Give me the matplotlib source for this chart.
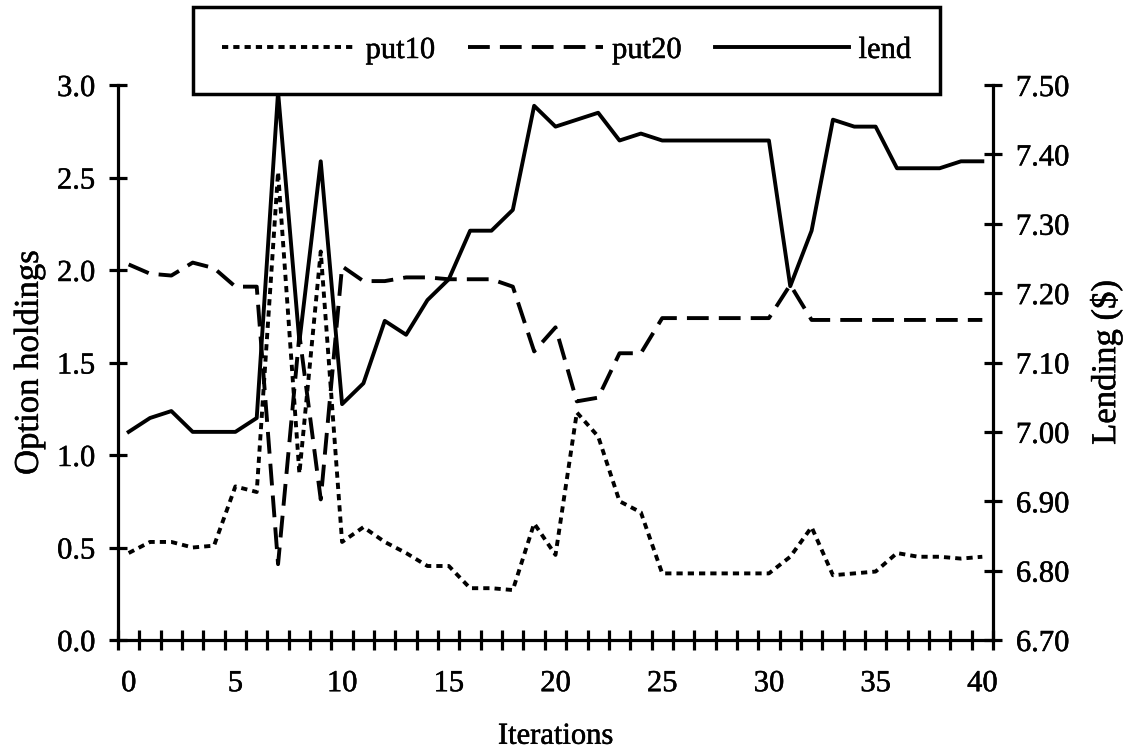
import numpy as np
import matplotlib
matplotlib.use("Agg")
import matplotlib.pyplot as plt
import matplotlib.patheffects as pe

plt.rcParams['font.family'] = ['Liberation Serif', 'DejaVu Serif']

# Iteration index
iterations = list(range(41))

# Option holdings (left axis)
put10 = [0.47, 0.53, 0.53, 0.50, 0.51, 0.83, 0.80, 2.53, 0.90, 2.10,
         0.53, 0.61, 0.53, 0.47, 0.40, 0.40, 0.28, 0.28, 0.27, 0.63,
         0.46, 1.23, 1.10, 0.75, 0.69, 0.36, 0.36, 0.36, 0.36, 0.36,
         0.36, 0.45, 0.61, 0.35, 0.36, 0.37, 0.47, 0.45, 0.45, 0.44,
         0.45]
put20 = [2.03, 1.98, 1.97, 2.04, 2.01, 1.91, 1.91, 0.41, 1.65, 0.76,
         2.02, 1.94, 1.94, 1.96, 1.96, 1.95, 1.95, 1.95, 1.91, 1.56,
         1.69, 1.29, 1.31, 1.55, 1.55, 1.74, 1.74, 1.74, 1.74, 1.74,
         1.74, 1.92, 1.73, 1.73, 1.73, 1.73, 1.73, 1.73, 1.73, 1.73,
         1.73]

# Lending in dollars (right axis)
lend = [7.00, 7.02, 7.03, 7.00, 7.00, 7.00, 7.02, 7.49, 7.13, 7.39,
        7.04, 7.07, 7.16, 7.14, 7.19, 7.22, 7.29, 7.29, 7.32, 7.47,
        7.44, 7.45, 7.46, 7.42, 7.43, 7.42, 7.42, 7.42, 7.42, 7.42,
        7.42, 7.21, 7.29, 7.45, 7.44, 7.44, 7.38, 7.38, 7.38, 7.39,
        7.39]

left_ticks = [0.0, 0.5, 1.0, 1.5, 2.0, 2.5, 3.0]
right_ticks = [6.70, 6.80, 6.90, 7.00, 7.10, 7.20, 7.30, 7.40, 7.50]
x_label_ticks = [0, 5, 10, 15, 20, 25, 30, 35, 40]

W, H = 1131, 754
fig = plt.figure(figsize=(W / 100, H / 100), dpi=100)
ax = fig.add_axes([118 / W, 1 - 640 / H, (993 - 118) / W, (640 - 85) / H])
ax2 = ax.twinx()

LW = 2.8
TICK_FS = 22
LABEL_FS = 22
VLABEL_FS = 25
heavy = [pe.withStroke(linewidth=0.35, foreground='black')]

l1, = ax.plot(iterations, put10, color='black', lw=LW,
              linestyle=(0, (1.6, 1.3)))
l2, = ax.plot(iterations, put20, color='black', lw=LW,
              linestyle=(0, (5.6, 2.6)))
l3, = ax2.plot(iterations, lend, color='black', lw=LW)

ax.set_xlim(-0.5, 40.5)
ax.set_ylim(0, 3.0)
ax2.set_ylim(6.70, 7.50)

for a in (ax, ax2):
    a.spines['top'].set_visible(False)
    for s in a.spines.values():
        s.set_linewidth(2.3)
ax.spines['right'].set_visible(False)
ax2.spines['left'].set_visible(False)
ax2.spines['bottom'].set_visible(False)

# category axis: labels at centres, crosses at boundaries
ax.set_xticks(x_label_ticks)
ax.set_xticklabels([str(v) for v in x_label_ticks])
ax.set_xticks(np.arange(-0.5, 41, 1.0), minor=True)
ax.tick_params(axis='x', which='major', length=0, pad=21, labelsize=TICK_FS)
ax.tick_params(axis='x', which='minor', direction='inout', length=14, width=2.3)

ax.set_yticks(left_ticks)
ax.set_yticklabels([f"{v:.1f}" for v in left_ticks])
ax.tick_params(axis='y', direction='inout', length=13, width=2.3,
               labelsize=TICK_FS, pad=10)

ax2.set_yticks(right_ticks)
ax2.set_yticklabels([f"{v:.2f}" for v in right_ticks])
ax2.tick_params(axis='y', direction='inout', length=13, width=2.3,
                labelsize=TICK_FS, pad=10)

for t in ax.get_xticklabels() + ax.get_yticklabels() + ax2.get_yticklabels():
    t.set_path_effects(heavy)

ax.set_xlabel('Iterations', fontsize=LABEL_FS, labelpad=17, path_effects=heavy)
ax.set_ylabel('Option holdings', fontsize=VLABEL_FS, labelpad=8, path_effects=heavy)
ax2.set_ylabel('Lending ($)', fontsize=VLABEL_FS, labelpad=14, path_effects=heavy)

leg = fig.legend([l1, l2, l3], ['put10', 'put20', 'lend'],
                 loc='center', ncol=3,
                 bbox_to_anchor=(566.5 / W, 1 - 50.5 / H),
                 borderaxespad=0, frameon=True, fancybox=False,
                 edgecolor='black', framealpha=1, fontsize=TICK_FS,
                 handlelength=4.4, handletextpad=0.3, columnspacing=1.1,
                 borderpad=0.95)
leg.get_frame().set_linewidth(2.5)
for t in leg.get_texts():
    t.set_path_effects(heavy)

fig.savefig('out.png', dpi=100, facecolor='white')
